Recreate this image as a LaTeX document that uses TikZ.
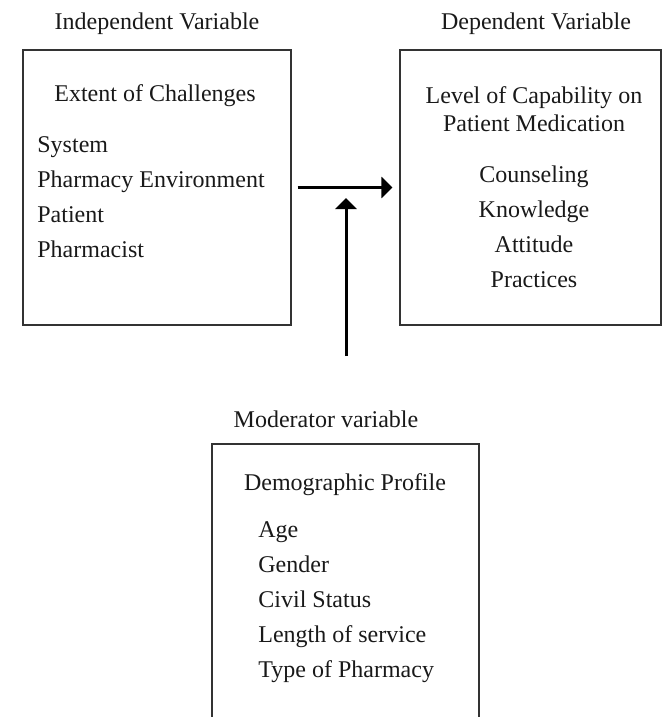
\documentclass[tikz,border=0pt]{standalone}
\usepackage{fontspec}
\setmainfont{Liberation Serif}
\usetikzlibrary{arrows.meta,calc}
\begin{document}
\begin{tikzpicture}[x=0.5pt,y=-0.5pt,
  boxline/.style={draw=black!80,line width=0.6pt},
  txt/.style={inner sep=0pt,font=\fontsize{12}{14}\selectfont,text=black!90},
  conn/.style={line width=1.5pt,-{Triangle[length=5.5pt,width=10.5pt]}}]
\useasboundingbox (0,0) rectangle (662,717);
% boxes
\node[boxline,minimum width=134pt,minimum height=137.5pt,inner sep=0pt] (indep) at (157,187.5) {};
\node[boxline,minimum width=130.5pt,minimum height=137.5pt,inner sep=0pt] (dep) at (530.5,187.5) {};
\coordinate (mbl) at (212,720);
\coordinate (mtl) at (212,444);
\coordinate (mtr) at (479,444);
\coordinate (mbr) at (479,720);
\draw[boxline] (mbl) -- (mtl) -- (mtr) -- (mbr);
% titles
\node[txt,anchor=base] (t1) at (157,30) {Independent Variable};
\node[txt,anchor=base] (t2) at (536,30) {Dependent Variable};
\node[txt,anchor=base] (t3) at (326,427) {Moderator variable};
% left box text
\node[txt,anchor=base] (l0) at (155,102) {Extent of Challenges};
\node[txt,anchor=base west] (l1) at (37,152) {System};
\node[txt,anchor=base west] (l2) at (37,187) {Pharmacy Environment};
\node[txt,anchor=base west] (l3) at (37,222) {Patient};
\node[txt,anchor=base west] (l4) at (37,257) {Pharmacist};
% right box text
\node[txt,anchor=base] (r0) at (534,104) {Level of Capability on};
\node[txt,anchor=base] (r1) at (534,132) {Patient Medication};
\node[txt,anchor=base] (r2) at (534,182) {Counseling};
\node[txt,anchor=base] (r3) at (534,217) {Knowledge};
\node[txt,anchor=base] (r4) at (534,252) {Attitude};
\node[txt,anchor=base] (r5) at (534,287) {Practices};
% bottom box text
\node[txt,anchor=base] (m0) at (345,490) {Demographic Profile};
\node[txt,anchor=base west] (m1) at (258,537) {Age};
\node[txt,anchor=base west] (m2) at (258,572) {Gender};
\node[txt,anchor=base west] (m3) at (258,607) {Civil Status};
\node[txt,anchor=base west] (m4) at (258,642) {Length of service};
\node[txt,anchor=base west] (m5) at (258,677) {Type of Pharmacy};
% arrows
\coordinate (hs) at ($(indep.east)+(6,0)$);
\coordinate (he) at ($(dep.west)+(-7,0)$);
\draw[conn] (hs) -- (he);
\coordinate (vs) at (346,356);
\coordinate (ve) at (346,198);
\draw[conn] (vs) -- (ve);
\end{tikzpicture}
\end{document}
